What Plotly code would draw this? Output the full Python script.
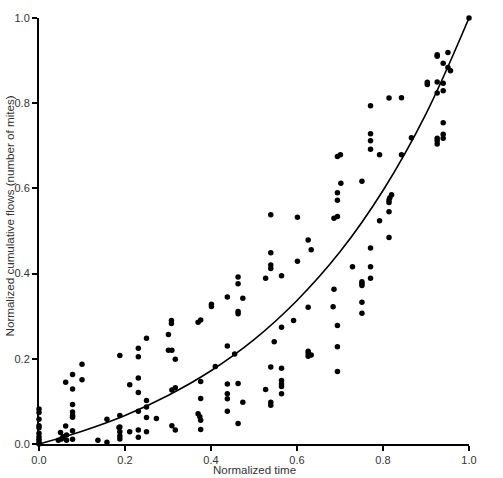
import plotly.graph_objects as go

# Observed data points (normalized time, normalized cumulative flows)
time_x = [
    0.0, 0.0, 0.0, 0.0, 0.0, 0.0, 0.0, 0.0, 0.0, 0.0,
    0.045, 0.05, 0.052, 0.056, 0.064, 0.064, 0.062, 0.062,
    0.078, 0.078, 0.078, 0.078, 0.078, 0.078, 0.078, 0.078,
    0.1, 0.1, 0.137, 0.158, 0.158,
    0.186, 0.188, 0.188, 0.188, 0.188, 0.188, 0.188,
    0.211, 0.211,
    0.231, 0.231, 0.231, 0.231, 0.231, 0.231, 0.231,
    0.25, 0.25, 0.25, 0.25, 0.25, 0.273,
    0.301, 0.301, 0.308, 0.308, 0.309, 0.309, 0.309, 0.317, 0.317, 0.317,
    0.37, 0.376, 0.376, 0.376, 0.37, 0.374, 0.376, 0.376,
    0.401, 0.401, 0.41,
    0.438, 0.438, 0.438, 0.438, 0.438, 0.438, 0.455,
    0.463, 0.463, 0.463, 0.463, 0.463, 0.463, 0.474, 0.474,
    0.527, 0.527, 0.539, 0.539, 0.539, 0.539, 0.539, 0.539, 0.539, 0.547,
    0.564, 0.564, 0.564, 0.564, 0.564, 0.564, 0.564,
    0.592, 0.601, 0.601,
    0.626, 0.626, 0.626, 0.626, 0.626, 0.633, 0.633,
    0.686, 0.694, 0.694, 0.701, 0.702, 0.694, 0.694, 0.686, 0.684, 0.694, 0.694, 0.694,
    0.729,
    0.751, 0.751, 0.751, 0.751, 0.751, 0.751,
    0.771, 0.771, 0.771, 0.771, 0.771, 0.771, 0.771,
    0.792, 0.792,
    0.814, 0.82, 0.816, 0.814, 0.814, 0.814, 0.814,
    0.843, 0.843, 0.866,
    0.903, 0.903,
    0.926, 0.926, 0.926, 0.926, 0.926, 0.926, 0.926,
    0.94, 0.94, 0.94, 0.94, 0.94, 0.94,
    0.951, 0.951, 0.957, 1.0,
]
flows_y = [
    0.082, 0.074, 0.058, 0.043, 0.038, 0.025, 0.017, 0.011, 0.005, 0.0,
    0.009, 0.027, 0.012, 0.017, 0.021, 0.009, 0.145, 0.042,
    0.163, 0.129, 0.093, 0.075, 0.067, 0.063, 0.031, 0.011,
    0.187, 0.151, 0.009, 0.004, 0.058,
    0.039, 0.208, 0.067, 0.040, 0.029, 0.019, 0.012,
    0.139, 0.029,
    0.225, 0.205, 0.155, 0.121, 0.077, 0.033, 0.016,
    0.248, 0.102, 0.087, 0.062, 0.029, 0.060,
    0.257, 0.22, 0.29, 0.283, 0.22, 0.127, 0.043, 0.199, 0.132, 0.033,
    0.286, 0.291, 0.147, 0.107, 0.071, 0.064, 0.056, 0.034,
    0.328, 0.323, 0.182,
    0.345, 0.23, 0.141, 0.118, 0.106, 0.077, 0.211,
    0.392, 0.376, 0.311, 0.306, 0.142, 0.048, 0.342, 0.098,
    0.389, 0.128, 0.538, 0.449, 0.42, 0.412, 0.181, 0.098, 0.091, 0.24,
    0.395, 0.274, 0.178, 0.149, 0.141, 0.135, 0.118,
    0.29, 0.532, 0.429,
    0.479, 0.321, 0.218, 0.212, 0.206, 0.456, 0.209,
    0.53, 0.534, 0.675, 0.679, 0.612, 0.59, 0.572, 0.363, 0.322, 0.278, 0.228, 0.17,
    0.416,
    0.617, 0.381, 0.377, 0.372, 0.333, 0.307,
    0.794, 0.728, 0.712, 0.692, 0.46, 0.416, 0.389,
    0.679, 0.524,
    0.812, 0.585, 0.578, 0.573, 0.567, 0.545, 0.485,
    0.813, 0.679, 0.719,
    0.849, 0.844,
    0.914, 0.91, 0.85, 0.824, 0.718, 0.712, 0.704,
    0.894, 0.847, 0.829, 0.754, 0.727, 0.718,
    0.919, 0.884, 0.876, 1.0,
]

# Fitted curve values
curve_x = [0.0, 0.1, 0.2, 0.3, 0.4, 0.5, 0.6, 0.7, 0.8, 0.9, 1.0]
curve_y = [0.0, 0.030, 0.067, 0.114, 0.172, 0.245, 0.337, 0.451, 0.595, 0.775, 1.0]

tick_vals = [0.0, 0.2, 0.4, 0.6, 0.8, 1.0]
tick_text = ["0.0", "0.2", "0.4", "0.6", "0.8", "1.0"]

FONT = "Liberation Sans, Arial, sans-serif"

fig = go.Figure()
fig.add_trace(go.Scatter(
    x=curve_x, y=curve_y, mode="lines",
    line=dict(color="black", width=1.6, shape="spline", smoothing=1.0),
    hoverinfo="skip", showlegend=False,
))
fig.add_trace(go.Scatter(
    x=time_x, y=flows_y, mode="markers",
    marker=dict(color="black", size=5.5, line=dict(width=0)),
    cliponaxis=False, showlegend=False,
))

axis_common = dict(
    range=[0, 1], showgrid=False, zeroline=False,
    showline=True, linecolor="black", linewidth=2,
    ticks="outside", ticklen=5, tickwidth=2, tickcolor="black",
    tickvals=tick_vals, ticktext=tick_text,
    tickfont=dict(family=FONT, size=11, color="#333333"),
    fixedrange=True,
)

fig.update_layout(
    width=503, height=478,
    margin=dict(l=39, r=34, t=13, b=34),
    paper_bgcolor="white", plot_bgcolor="white",
    xaxis=dict(**axis_common),
    yaxis=dict(**axis_common),
    annotations=[
        dict(text="Normalized time", xref="paper", yref="paper",
             x=0.5, y=-0.061, xanchor="center", yanchor="middle",
             showarrow=False, font=dict(family=FONT, size=11.5, color="#333333")),
        dict(text="Normalized cumulative flows (number of mites)",
             xref="paper", yref="paper", x=-0.068, y=0.536,
             xanchor="center", yanchor="middle", textangle=-90,
             showarrow=False, font=dict(family=FONT, size=11.6, color="#333333")),
    ],
)

fig.write_html("out.html")
